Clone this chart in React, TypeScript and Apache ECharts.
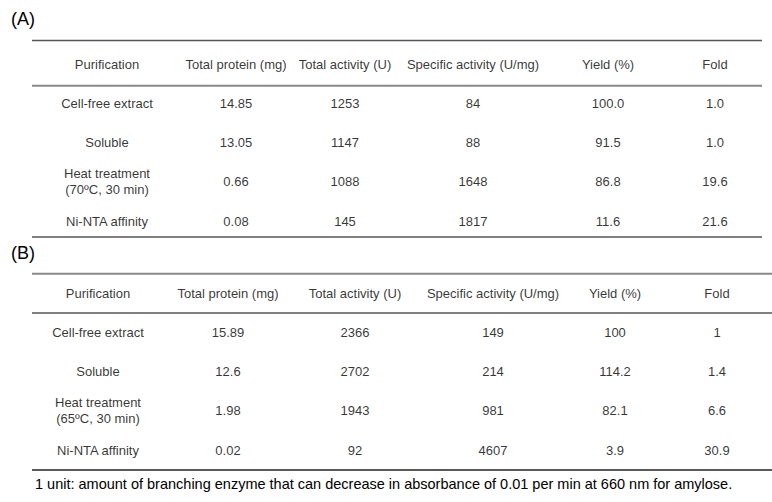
import React, { useEffect, useRef } from "react";
import * as echarts from "echarts";

// ---------- data ----------
const headers = [
  "Purification",
  "Total protein (mg)",
  "Total activity (U)",
  "Specific activity (U/mg)",
  "Yield (%)",
  "Fold",
];

const stepsA = ["Cell-free extract", "Soluble", "Heat treatment\n(70ºC, 30 min)", "Ni-NTA affinity"];
const proteinA = [14.85, 13.05, 0.66, 0.08];
const activityA = [1253, 1147, 1088, 145];
const specificA = [84, 88, 1648, 1817];
const yieldA = [100.0, 91.5, 86.8, 11.6];
const foldA = [1.0, 1.0, 19.6, 21.6];
const decimalsA = [2, 0, 0, 1, 1];

const stepsB = ["Cell-free extract", "Soluble", "Heat treatment\n(65ºC, 30 min)", "Ni-NTA affinity"];
const proteinB = [15.89, 12.6, 1.98, 0.02];
const activityB = [2366, 2702, 1943, 92];
const specificB = [149, 214, 981, 4607];
const yieldB = [100, 114.2, 82.1, 3.9];
const foldB = [1, 1.4, 6.6, 30.9];

const footnote =
  "1 unit: amount of branching enzyme that can decrease in absorbance of 0.01 per min at 660 nm for amylose.";

// ---------- layout ----------
const rowCats = ["h", "r0", "r1", "r2", "r3"];
const colXA = [107, 236, 345, 473, 608, 715];
const colXB = [98, 228, 355, 493, 615, 717];
const FONT = "'Liberation Sans', Arial, sans-serif";

function buildSeries(
  gridIndex: number,
  colX: number[],
  steps: string[],
  cols: number[][],
  decimals: number[] | null
) {
  const series: any[] = [];
  colX.forEach((x, ci) => {
    const data: any[] = [{ name: headers[ci], value: [x, "h"] }];
    for (let r = 0; r < steps.length; r++) {
      let text: string;
      if (ci === 0) text = steps[r];
      else {
        const v = cols[ci - 1][r];
        text = decimals ? v.toFixed(decimals[ci - 1]) : String(v);
      }
      data.push({ name: text, value: [x, "r" + r] });
    }
    series.push({
      type: "scatter",
      xAxisIndex: gridIndex,
      yAxisIndex: gridIndex,
      symbolSize: 1,
      itemStyle: { color: "rgba(0,0,0,0)" },
      silent: true,
      data,
      label: {
        show: true,
        position: "inside",
        formatter: (p: any) => p.name,
        color: "#000",
        fontSize: 13,
        fontFamily: FONT,
        lineHeight: 16,
        align: "center",
        verticalAlign: "middle",
      },
    });
  });
  return series;
}

export default function App() {
  const ref = useRef<HTMLDivElement>(null);
  useEffect(() => {
    document.body.style.margin = "0";
    const chart = echarts.init(ref.current!, null, { renderer: "svg" });
    const hLine = (x1: number, x2: number, y: number, color: string, w: number) => ({
      type: "line",
      shape: { x1, y1: y, x2, y2: y },
      style: { stroke: color, lineWidth: w },
      silent: true,
    });
    const option: any = {
      animation: false,
      backgroundColor: "#fff",
      grid: [
        { left: 0, right: 0, top: 64, height: 157 },
        { left: 0, right: 0, top: 293, height: 157 },
      ],
      xAxis: [0, 1].map((i) => ({
        type: "value",
        gridIndex: i,
        min: 0,
        max: 772,
        show: false,
      })),
      yAxis: [0, 1].map((i) => ({
        type: "category",
        gridIndex: i,
        data: rowCats,
        inverse: true,
        boundaryGap: false,
        show: false,
      })),
      series: [
        ...buildSeries(0, colXA, stepsA, [proteinA, activityA, specificA, yieldA, foldA], decimalsA),
        ...buildSeries(1, colXB, stepsB, [proteinB, activityB, specificB, yieldB, foldB], null),
      ],
      graphic: [
        {
          type: "text",
          left: 11,
          top: 10,
          style: { text: "(A)", fontSize: 18, fontFamily: FONT, fill: "#000" },
        },
        {
          type: "text",
          left: 11,
          top: 244,
          style: { text: "(B)", fontSize: 18, fontFamily: FONT, fill: "#000" },
        },
        hLine(32, 762, 40.5, "#555", 1.5),
        hLine(32, 762, 85.7, "#888", 2),
        hLine(32, 762, 237, "#555", 1.5),
        hLine(32, 772, 273.7, "#888", 2),
        hLine(32, 772, 313, "#555", 1.5),
        hLine(32, 772, 470, "#222", 1.5),
        {
          type: "text",
          left: 35,
          top: 476,
          style: { text: footnote, fontSize: 14.5, fontFamily: FONT, fill: "#000" },
        },
      ],
    };
    chart.setOption(option);
    return () => chart.dispose();
  }, []);
  return <div ref={ref} style={{ width: 772, height: 502 }} />;
}
